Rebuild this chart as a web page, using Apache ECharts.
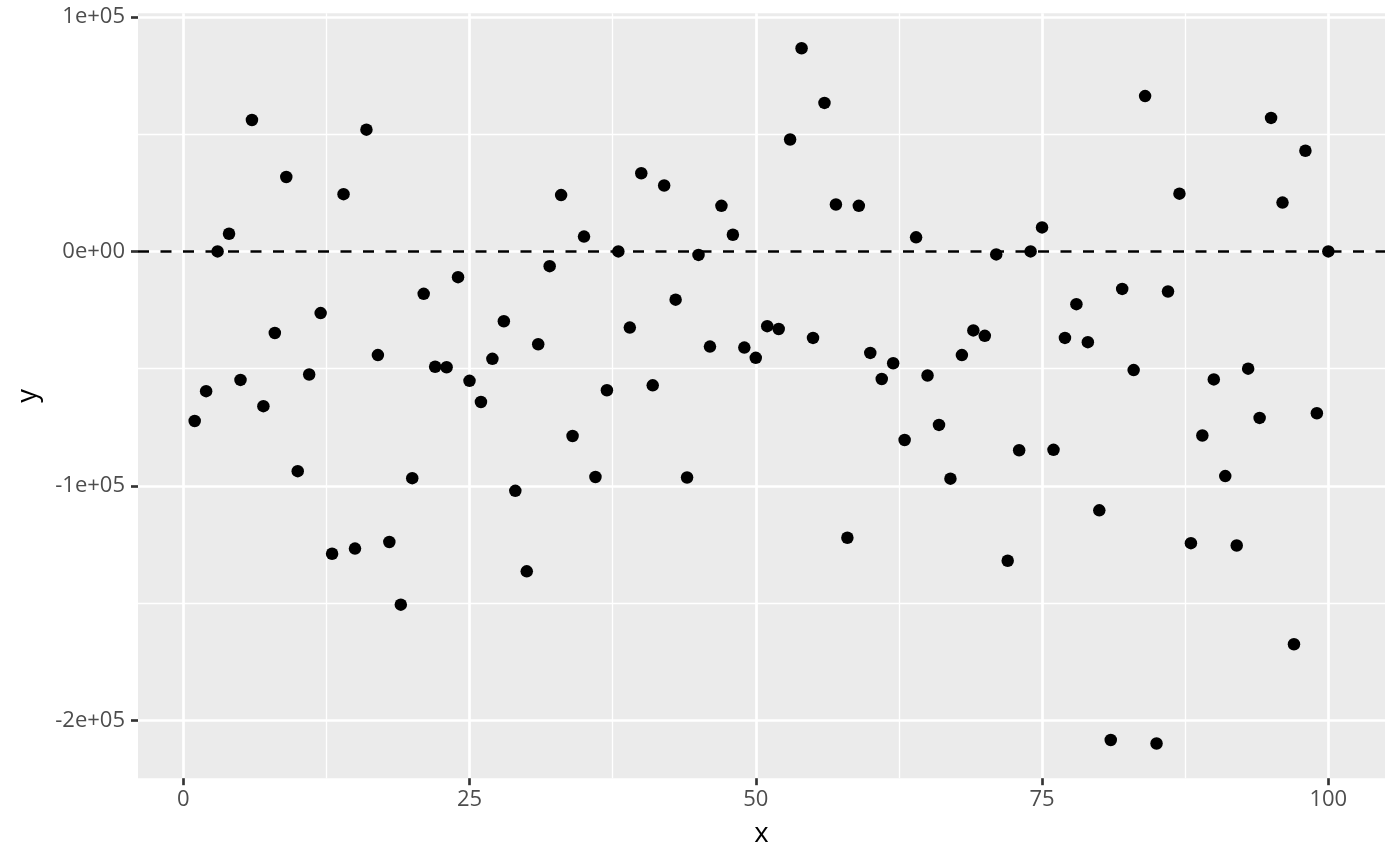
<!DOCTYPE html>
<html>
<head>
<meta charset="utf-8">
<script src="https://cdn.jsdelivr.net/npm/echarts@6/dist/echarts.min.js"></script>
<style>
html,body{margin:0;padding:0;background:#fff;}
#chart{width:1400px;height:866px;}
</style>
</head>
<body>
<div id="chart"></div>
<script>
const xValues = [1,2,3,4,5,6,7,8,9,10,11,12,13,14,15,16,17,18,19,20,
  21,22,23,24,25,26,27,28,29,30,31,32,33,34,35,36,37,38,39,40,
  41,42,43,44,45,46,47,48,49,50,51,52,53,54,55,56,57,58,59,60,
  61,62,63,64,65,66,67,68,69,70,71,72,73,74,75,76,77,78,79,80,
  81,82,83,84,85,86,87,88,89,90,91,92,93,94,95,96,97,98,99,100];
const yValues = [-72300,-59600,0,7500,-54800,56000,-66000,-34800,31700,-93700,
  -52500,-26300,-128900,24400,-126700,51900,-44200,-123900,-150600,-96700,
  -18100,-49200,-49400,-11000,-55200,-64200,-45800,-29800,-102100,-136400,
  -39600,-6300,24000,-78700,6300,-96200,-59200,0,-32500,33300,
  -57100,28100,-20600,-96400,-1500,-40600,19400,7100,-41000,-45400,
  -31900,-33100,47700,86600,-36900,63300,20000,-122100,19400,-43300,
  -54400,-47700,-80400,6000,-52900,-74000,-96900,-44200,-33700,-36000,
  -1300,-131900,-84800,0,10200,-84600,-36900,-22500,-38700,-110400,
  -208300,-16000,-50600,66200,-209800,-17100,24600,-124400,-78500,-54600,
  -95800,-125400,-50000,-71000,56900,20800,-167500,42900,-69000,0];
const xTickValues = [0,25,50,75,100];
const xTickLabels = ['0','25','50','75','100'];
const xMinorValues = [12.5,37.5,62.5,87.5];
const yTickValues = [-200000,-100000,0,100000];
const yTickLabels = ['-2e+05','-1e+05','0e+00','1e+05'];
const yMinorValues = [-150000,-50000,50000];
const refLineY = 0;
const xTitle = 'x';
const yTitle = 'y';

const xMin = -3.95, xMax = 104.95;
const yMin = -224600, yMax = 101500;

const FONT = "'Open Sans', 'Noto Sans', sans-serif";
const chart = echarts.init(document.getElementById('chart'), null, {renderer:'canvas'});

const points = xValues.map((x, i) => [x, yValues[i]]);

const option = {
  animation: false,
  backgroundColor: '#ffffff',
  grid: {
    left: 138, right: 15, top: 13.3, bottom: 87.8,
    show: true, backgroundColor: '#EBEBEB', borderWidth: 0,
    containLabel: false
  },
  xAxis: [
    {
      type: 'value', min: xMin, max: xMax, position: 'bottom',
      name: xTitle, nameLocation: 'middle', nameGap: 42,
      nameTextStyle: {color: '#000', fontSize: 27.5, fontFamily: FONT},
      axisLine: {show: false, onZero: false},
      axisTick: {show: true, customValues: xTickValues, length: 7,
        lineStyle: {color: '#333333', width: 2.67}},
      axisLabel: {show: true, customValues: xTickValues, margin: 11,
        color: '#4D4D4D', fontSize: 22, fontFamily: FONT,
        formatter: v => { const k = xTickValues.indexOf(v); return k >= 0 ? xTickLabels[k] : ''; }},
      splitLine: {show: true, lineStyle: {color: '#ffffff', width: 2.67}}
    },
    {
      type: 'value', min: xMin, max: xMax, position: 'top',
      axisLine: {show: false, onZero: false},
      axisTick: {show: false, customValues: xMinorValues},
      axisLabel: {show: false, customValues: xMinorValues},
      splitLine: {show: true, lineStyle: {color: '#ffffff', width: 1.33}}
    }
  ],
  yAxis: [
    {
      type: 'value', min: yMin, max: yMax, position: 'left',
      name: yTitle, nameLocation: 'middle', nameGap: 96, nameRotate: 90,
      nameTextStyle: {color: '#000', fontSize: 27.5, fontFamily: FONT},
      axisLine: {show: false, onZero: false},
      axisTick: {show: true, customValues: yTickValues, length: 7,
        lineStyle: {color: '#333333', width: 2.67}},
      axisLabel: {show: true, customValues: yTickValues, margin: 13,
        color: '#4D4D4D', fontSize: 22, fontFamily: FONT,
        formatter: v => { const k = yTickValues.indexOf(v); return k >= 0 ? yTickLabels[k] : ''; }},
      splitLine: {show: true, lineStyle: {color: '#ffffff', width: 2.67}}
    },
    {
      type: 'value', min: yMin, max: yMax, position: 'right',
      axisLine: {show: false, onZero: false},
      axisTick: {show: false, customValues: yMinorValues},
      axisLabel: {show: false, customValues: yMinorValues},
      splitLine: {show: true, lineStyle: {color: '#ffffff', width: 1.33}}
    }
  ],
  series: [
    {
      type: 'scatter', xAxisIndex: 0, yAxisIndex: 0,
      data: points, symbol: 'circle', symbolSize: 12.5,
      itemStyle: {color: '#000000', opacity: 1},
      silent: true,
      markLine: {
        silent: true, symbol: ['none','none'],
        label: {show: false},
        lineStyle: {color: '#000000', type: [11, 11.5], width: 2.67},
        data: [{yAxis: refLineY}]
      }
    }
  ]
};
chart.setOption(option);
</script>
</body>
</html>
